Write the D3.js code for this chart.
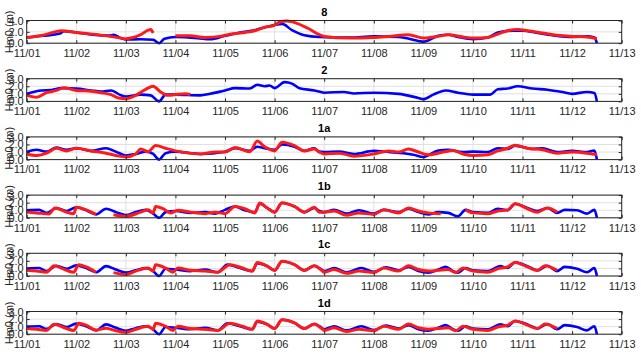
<!DOCTYPE html>
<html><head><meta charset="utf-8">
<script src="https://cdn.jsdelivr.net/npm/d3@7"></script>
<style>body{margin:0;background:#fff}svg{display:block}text{font-family:"Liberation Sans",Arial,sans-serif}</style>
</head><body>
<svg id="c" width="641" height="355"></svg>
<script>
// time = days since 11/01 00:00, value = Hm0 (m); null = gap
const dayLabels = ["11/01","11/02","11/03","11/04","11/05","11/06","11/07","11/08","11/09","11/10","11/11","11/12","11/13"];
const panelTitles = ["8","2","1a","1b","1c","1d"];
const yTicks8 = [0,2,4];
const yTicksOther = [0,1,2,3];

const blue8 = [[0,1.0],[0.33,1.3],[0.67,1.7],[0.75,2.1],[1.0,1.9],[1.33,1.5],[1.67,1.35],[1.75,1.5],[1.9,0.9],[2.0,0.65],[2.3,0.7],[2.55,0.6],[2.67,0.0],[2.78,0.8],[3.0,1.1],[3.45,0.9],[3.7,0.7],[4.0,1.3],[4.3,1.9],[4.6,2.3],[4.85,2.9],[5.15,3.4],[5.35,2.3],[5.6,1.4],[5.9,1.1],[6.5,1.0],[7.0,1.2],[7.5,1.1],[7.9,0.4],[8.0,0.25],[8.3,1.3],[8.5,1.5],[8.7,1.1],[9.0,0.7],[9.3,1.0],[9.5,1.9],[9.8,2.2],[10.0,2.2],[10.3,1.8],[10.6,1.4],[11.0,1.1],[11.3,1.2],[11.45,1.0],[11.5,0.0]];
const red8 = [[0,1.0],[0.33,1.4],[0.7,2.2],[1.0,1.9],[1.33,1.6],[1.7,1.2],[2.0,0.8],[2.3,1.5],[2.45,2.3],[2.5,2.4],[2.55,1.8],[null,null],[3.0,1.3],[3.3,1.3],[3.6,1.0],[3.9,1.2],[4.1,1.6],[4.4,1.9],[4.6,2.2],[4.8,2.8],[5.0,3.2],[5.1,3.7],[5.25,3.9],[5.45,3.5],[5.7,2.5],[5.9,1.5],[6.0,1.2],[6.5,0.9],[7.0,1.0],[7.3,1.2],[7.7,1.5],[8.0,0.9],[8.3,1.2],[8.5,1.5],[8.8,1.1],[9.0,0.9],[9.3,1.0],[9.5,1.6],[9.7,2.2],[9.9,2.4],[10.1,2.2],[10.4,1.8],[10.7,1.4],[11.0,1.2],[11.3,1.1],[11.5,0.8]];

const blue2 = [[0,1.0],[0.3,1.45],[0.5,1.5],[0.7,1.75],[1.0,1.7],[1.3,1.45],[1.5,1.3],[1.7,1.45],[1.9,0.8],[2.0,0.65],[2.3,0.9],[2.5,0.8],[2.67,0.0],[2.8,0.9],[3.0,0.9],[3.5,0.8],[3.7,1.0],[4.0,1.45],[4.2,1.75],[4.5,1.7],[4.65,2.2],[4.8,2.0],[4.9,2.1],[5.0,1.75],[5.2,2.55],[5.35,2.35],[5.5,1.75],[5.8,1.45],[5.9,1.3],[6.0,1.15],[6.4,1.25],[6.6,1.05],[7.0,1.15],[7.5,1.0],[7.9,0.45],[8.0,0.3],[8.2,0.9],[8.45,1.45],[8.7,1.15],[9.0,0.9],[9.35,0.9],[9.5,1.6],[9.7,1.7],[9.9,2.0],[10.2,1.7],[10.5,1.55],[10.8,1.25],[11.0,1.0],[11.3,1.25],[11.45,1.1],[11.5,0.0]];
const red2 = [[0,0.8],[0.2,0.55],[0.4,1.15],[0.6,1.45],[0.75,1.8],[1.0,1.45],[1.3,1.35],[1.5,1.15],[1.7,0.9],[1.85,0.45],[2.0,0.35],[2.2,0.8],[2.4,1.6],[2.55,2.0],[2.7,1.25],[2.85,0.8],[3.0,0.9],[3.2,1.0],[3.3,0.9]];

const blue1a = [[0,1.0],[0.2,1.3],[0.4,1.05],[0.6,1.6],[0.8,1.3],[1.0,1.5],[1.3,1.15],[1.6,1.5],[1.8,1.05],[2.0,0.55],[2.2,0.75],[2.4,1.05],[2.55,0.75],[2.67,0.0],[2.8,0.85],[3.0,1.05],[3.5,0.75],[4.0,1.05],[4.2,1.5],[4.5,1.15],[4.65,1.7],[4.8,1.5],[5.0,1.3],[5.15,2.0],[5.4,1.7],[5.6,1.15],[5.8,1.5],[5.9,1.05],[6.0,1.0],[6.3,1.05],[6.6,0.75],[7.0,1.15],[7.3,1.0],[7.6,0.85],[7.8,0.65],[8.0,0.35],[8.3,1.2],[8.5,1.3],[8.8,1.0],[9.0,1.05],[9.3,1.0],[9.5,1.5],[9.7,1.4],[9.85,1.85],[10.2,1.4],[10.4,1.5],[10.7,1.0],[11.0,1.15],[11.3,1.0],[11.45,1.2],[11.5,0.0]];
const red1a = [[0,0.75],[0.2,0.55],[0.4,0.85],[0.6,1.5],[0.8,1.15],[1.0,1.5],[1.3,1.15],[1.6,0.85],[1.8,0.55],[2.0,0.35],[2.2,0.75],[2.3,1.4],[2.45,1.05],[2.6,1.85],[2.8,1.5],[3.0,1.15],[3.5,0.75],[3.8,1.0],[4.0,1.0],[4.2,1.6],[4.5,1.05],[4.65,2.45],[4.8,1.7],[5.0,1.15],[5.15,2.3],[5.4,1.85],[5.6,1.15],[5.8,1.4],[5.9,1.0],[6.0,0.75],[6.3,0.85],[6.6,0.45],[7.0,0.75],[7.3,1.15],[7.5,1.0],[7.7,1.4],[7.9,1.0],[8.1,0.65],[8.4,1.0],[8.6,1.2],[8.8,0.75],[9.0,0.55],[9.3,0.65],[9.5,1.15],[9.7,1.5],[9.85,1.9],[10.1,1.5],[10.4,1.3],[10.7,0.85],[11.0,1.0],[11.3,0.85],[11.5,0.65]];

const blue1b = [[0,1.0],[0.25,1.05],[0.4,0.65],[0.6,1.3],[0.8,0.9],[1.0,1.4],[1.2,1.0],[1.4,0.45],[1.6,1.2],[1.8,0.75],[2.0,0.35],[2.2,0.75],[2.4,1.05],[2.55,0.55],[2.67,0.0],[2.8,0.75],[3.0,0.9],[3.3,0.65],[3.6,0.75],[3.8,0.55],[4.0,1.05],[4.2,1.5],[4.4,1.0],[4.6,0.75],[4.7,1.85],[4.85,1.3],[5.0,0.75],[5.15,1.95],[5.4,1.5],[5.6,0.75],[5.8,1.3],[5.9,0.9],[6.0,0.75],[6.2,1.05],[6.45,0.55],[6.7,1.0],[7.0,0.55],[7.2,1.05],[7.5,0.75],[7.7,1.2],[7.9,0.75],[8.1,0.45],[8.3,0.75],[8.5,0.65],[8.7,0.2],[8.85,1.05],[9.0,0.75],[9.3,0.65],[9.5,1.2],[9.7,1.0],[9.85,1.85],[10.1,1.3],[10.3,0.9],[10.5,1.3],[10.7,0.65],[10.85,1.05],[11.1,1.0],[11.3,0.55],[11.45,1.05],[11.5,0.0]];
const red1b = [[0,0.75],[0.2,0.65],[0.45,0.5],[0.57,1.3],[0.8,0.75],[0.95,0.55],[1.0,1.4],[1.2,1.05],[1.4,0.45],[null,null],[1.75,0.4],[2.0,0.2],[2.3,0.75],[2.45,1.05],[2.55,0.65],[2.6,1.5],[2.75,1.2],[2.9,0.65],[3.05,1.0],[3.3,0.75],[3.6,0.55],[3.8,0.75],[4.0,0.55],[4.2,1.5],[4.4,1.2],[4.6,0.65],[4.7,1.95],[4.85,1.3],[5.0,0.75],[5.15,2.0],[5.4,1.5],[5.6,0.75],[5.8,1.4],[5.9,0.75],[6.0,0.75],[6.2,0.9],[6.45,0.35],[6.7,0.65],[7.0,0.45],[7.2,1.05],[7.5,0.65],[7.7,1.3],[7.9,0.9],[8.1,0.65],[8.35,0.55],[null,null],[8.85,1.05],[9.0,0.65],[9.3,0.55],[9.5,0.9],[9.7,1.05],[9.85,1.85],[10.1,1.2],[10.3,0.75],[10.5,1.3],[10.7,0.75]];

const blue1c = [[0,1.0],[0.25,1.05],[0.4,0.65],[0.6,1.35],[0.8,0.95],[1.0,1.4],[1.2,1.05],[1.4,0.5],[1.6,1.3],[1.8,0.85],[2.0,0.45],[2.2,0.75],[2.4,1.05],[2.55,0.65],[2.67,0.0],[2.8,0.95],[3.0,0.85],[3.3,0.65],[3.6,0.85],[3.85,0.5],[4.05,1.5],[4.3,1.05],[4.55,0.65],[4.65,1.7],[4.85,1.3],[5.0,0.75],[5.15,1.95],[5.4,1.5],[5.6,0.75],[5.8,1.35],[5.95,0.85],[6.0,0.65],[6.2,1.05],[6.45,0.5],[6.75,1.05],[7.0,0.55],[7.25,1.15],[7.5,0.75],[7.7,1.2],[7.9,0.65],[8.1,0.45],[8.3,0.85],[8.45,1.2],[8.6,0.65],[8.7,0.45],[8.85,1.05],[9.0,0.75],[9.3,0.65],[9.55,1.3],[9.7,1.05],[9.85,1.8],[10.1,1.3],[10.3,0.75],[10.5,1.35],[10.7,0.65],[10.85,1.2],[11.1,0.95],[11.3,0.5],[11.45,1.05],[11.5,0.0]];
const red1c = [[0,0.75],[0.2,0.65],[0.4,0.5],[0.55,1.35],[0.8,0.75],[0.95,0.5],[1.05,1.5],[1.2,1.2],[1.4,0.5],[null,null],[1.75,0.45],[2.0,0.2],[2.2,0.65],[2.45,1.05],[2.55,0.65],[2.6,1.5],[2.8,1.05],[2.95,0.5],[3.05,1.05],[3.3,0.75],[3.6,0.65],[3.85,0.5],[4.1,1.5],[4.35,1.05],[4.55,0.65],[4.65,1.8],[4.85,1.3],[5.0,0.75],[5.15,1.95],[5.4,1.5],[5.6,0.75],[5.8,1.35],[5.95,0.75],[6.0,0.5],[6.2,0.85],[6.45,0.35],[6.7,0.65],[7.0,0.45],[7.2,1.05],[7.5,0.65],[7.7,1.35],[7.9,0.85],[8.1,0.65],[8.3,0.75],[8.5,0.85],[8.65,0.45],[8.8,1.05],[9.0,0.65],[9.3,0.5],[9.5,0.95],[9.7,1.2],[9.85,1.8],[10.1,1.2],[10.3,0.75],[10.45,1.35],[10.7,0.75]];

const blue1d = [[0,1.0],[0.25,1.05],[0.4,0.7],[0.6,1.35],[0.8,0.95],[1.0,1.4],[1.2,1.05],[1.4,0.5],[1.6,1.3],[1.8,0.85],[2.0,0.45],[2.2,0.8],[2.4,1.05],[2.55,0.65],[2.67,0.0],[2.8,0.95],[3.0,0.85],[3.3,0.65],[3.6,0.85],[3.85,0.5],[4.05,1.45],[4.3,1.05],[4.55,0.65],[4.65,1.65],[4.85,1.3],[5.0,0.75],[5.15,1.9],[5.4,1.5],[5.6,0.75],[5.8,1.35],[5.95,0.85],[6.0,0.65],[6.2,1.05],[6.45,0.5],[6.75,1.05],[7.0,0.55],[7.25,1.15],[7.5,0.75],[7.7,1.2],[7.9,0.65],[8.1,0.45],[8.3,0.85],[8.45,1.2],[8.6,0.65],[8.7,0.45],[8.85,1.05],[9.0,0.75],[9.3,0.65],[9.55,1.3],[9.7,1.05],[9.85,1.75],[10.1,1.3],[10.3,0.75],[10.5,1.35],[10.7,0.65],[10.85,1.2],[11.1,0.95],[11.3,0.5],[11.45,1.05],[11.5,0.0]];
const red1d = [[0,0.75],[0.2,0.65],[0.4,0.5],[0.55,1.3],[0.8,0.75],[0.95,0.5],[1.05,1.45],[1.2,1.2],[1.4,0.55],[1.6,0.8],[1.8,0.45],[2.0,0.25],[2.2,0.65],[2.45,1.05],[2.55,0.65],[2.6,1.45],[2.8,1.05],[2.95,0.5],[3.05,1.05],[3.3,0.75],[3.6,0.65],[3.85,0.5],[4.1,1.45],[4.35,1.05],[4.55,0.65],[4.65,1.75],[4.85,1.3],[5.0,0.75],[5.15,1.9],[5.4,1.5],[5.6,0.75],[5.8,1.35],[5.95,0.75],[6.0,0.5],[6.2,0.85],[6.45,0.35],[6.7,0.65],[7.0,0.45],[7.2,1.05],[7.5,0.65],[7.7,1.35],[7.9,0.85],[8.1,0.65],[8.3,0.75],[8.5,0.85],[8.65,0.45],[8.8,1.05],[9.0,0.65],[9.3,0.5],[9.5,0.95],[9.7,1.2],[9.85,1.75],[10.1,1.2],[10.3,0.75],[10.45,1.35],[10.7,0.75]];

const panels = [
  {title:panelTitles[0], yMax:4, yTicks:yTicks8, blue:blue8, red:red8},
  {title:panelTitles[1], yMax:3, yTicks:yTicksOther, blue:blue2, red:red2},
  {title:panelTitles[2], yMax:3, yTicks:yTicksOther, blue:blue1a, red:red1a},
  {title:panelTitles[3], yMax:3, yTicks:yTicksOther, blue:blue1b, red:red1b},
  {title:panelTitles[4], yMax:3, yTicks:yTicksOther, blue:blue1c, red:red1c},
  {title:panelTitles[5], yMax:3, yTicks:yTicksOther, blue:blue1d, red:red1d}
];

const svg = d3.select("#c");
const left = 26.7, right = 621.7, top0 = 20.5, step = 58.2, ph = 22.7;
const x = d3.scaleLinear().domain([0, 12]).range([left, right]);
const tickDays = d3.range(0, 13);

panels.forEach((p, i) => {
  const top = top0 + i * step;
  const y = d3.scaleLinear().domain([0, p.yMax]).range([top + ph, top]);
  const g = svg.append("g");
  g.selectAll(".vg").data(tickDays).enter().append("line")
    .attr("x1", d => x(d)).attr("x2", d => x(d)).attr("y1", top).attr("y2", top + ph)
    .attr("stroke", "#e0e0e0").attr("stroke-width", 1);
  g.selectAll(".hg").data(p.yTicks).enter().append("line")
    .attr("x1", left).attr("x2", right).attr("y1", d => y(d)).attr("y2", d => y(d))
    .attr("stroke", "#e0e0e0").attr("stroke-width", 1);
  const line = d3.line().defined(d => d[0] !== null).x(d => x(d[0])).y(d => y(d[1])).curve(d3.curveMonotoneX);
  const clipId = "clip" + i;
  svg.append("clipPath").attr("id", clipId).append("rect")
    .attr("x", left - 2).attr("y", top - 3).attr("width", right - left + 4).attr("height", ph + 6);
  g.append("path").datum(p.blue).attr("d", line).attr("fill", "none")
    .attr("stroke", "#0000ff").attr("stroke-width", 2.6).attr("stroke-linejoin", "round")
    .attr("clip-path", `url(#${clipId})`);
  g.append("path").datum(p.red).attr("d", line).attr("fill", "none")
    .attr("stroke", "#ff1a1a").attr("stroke-width", 3).attr("stroke-linejoin", "round")
    .attr("clip-path", `url(#${clipId})`);
  const xb = d3.axisBottom(x).tickValues(tickDays).tickFormat(d => dayLabels[d]).tickSizeInner(-3).tickSizeOuter(0).tickPadding(6);
  const xt = d3.axisTop(x).tickValues(tickDays).tickFormat("").tickSizeInner(-3).tickSizeOuter(0);
  const yl = d3.axisLeft(y).tickValues(p.yTicks).tickSizeInner(-3).tickSizeOuter(0).tickPadding(3);
  const yr = d3.axisRight(y).tickValues(p.yTicks).tickFormat("").tickSizeInner(-3).tickSizeOuter(0);
  const style = a => {
    a.select(".domain").remove();
    a.selectAll("line").attr("stroke", "#262626");
    a.selectAll("text").attr("fill", "#262626").style("font-size", "11px").style("font-family", '"Liberation Sans", Arial, sans-serif');
  };
  g.append("g").attr("transform", `translate(0,${top + ph})`).call(xb).call(style);
  g.append("g").attr("transform", `translate(0,${top})`).call(xt).call(style);
  g.append("g").attr("transform", `translate(${left},0)`).call(yl).call(style);
  g.append("g").attr("transform", `translate(${right},0)`).call(yr).call(style);
  g.append("rect").attr("x", left).attr("y", top).attr("width", right - left).attr("height", ph)
    .attr("fill", "none").attr("stroke", "#262626").attr("stroke-width", 1);
  g.append("text").attr("x", (left + right) / 2).attr("y", top - 5).attr("text-anchor", "middle")
    .style("font-size", "11px").style("font-weight", "bold").attr("fill", "#000").text(p.title);
  g.append("text").attr("transform", `translate(13,${top + ph / 2}) rotate(-90)`)
    .attr("text-anchor", "middle").style("font-size", "11px").attr("fill", "#262626").text("Hm0 (m)");
});
</script>
</body></html>
